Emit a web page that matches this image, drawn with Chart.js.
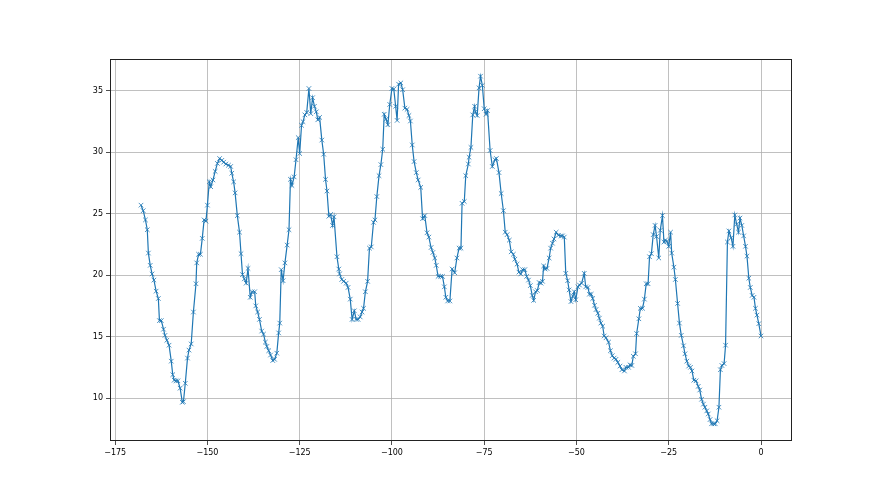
<!DOCTYPE html>
<html><head><meta charset="utf-8">
<script src="https://cdn.jsdelivr.net/npm/chart.js@4"></script>
<style>html,body{margin:0;padding:0;background:#fff}#wrap{width:880px;height:495px}</style>
</head><body><div id="wrap"><canvas id="c" width="880" height="495"></canvas></div>
<script>
const hours=[-168.0,-167.4,-166.8,-166.3,-166.0,-165.5,-165.0,-164.5,-163.9,-163.3,-163.0,-162.5,-161.9,-161.5,-161.0,-160.4,-159.8,-159.4,-159.0,-158.5,-158.0,-157.4,-156.8,-156.5,-156.0,-155.4,-155.0,-154.4,-153.8,-153.1,-152.9,-152.4,-151.9,-151.4,-150.9,-150.4,-150.0,-149.5,
-149.1,-148.5,-147.9,-147.3,-146.7,-146.1,-145.6,-145.0,-144.3,-143.7,-143.4,-142.9,-142.5,-141.9,-141.3,-140.9,-140.5,-140.0,-139.5,-139.0,-138.4,-137.9,-137.2,-136.9,-136.4,-135.9,-135.3,-134.8,-134.3,-133.9,-133.4,-132.9,-132.3,-131.8,-131.2,-130.7,-130.4,-130.0,-129.5,-129.0,-128.4,-127.9,-127.5,-127.1,-126.5,-126.0,-125.4,
-125.0,-124.5,-124.1,-123.6,-123.1,-122.5,-122.0,-121.5,-121.0,-120.5,-120.1,-119.6,-119.0,-118.5,-118.0,-117.6,-117.1,-116.6,-116.1,-115.7,-114.9,-114.4,-114.2,-113.6,-113.1,-112.4,-111.9,-111.3,-110.8,-110.2,-109.7,-109.2,-108.6,-108.1,-107.7,-107.2,-106.6,-106.1,-105.6,-105.0,-104.6,-104.1,-103.5,-103.0,-102.5,-102.1,-101.6,-101.1,-100.6,-100.0,
-99.5,-99.0,-98.6,-98.2,-97.6,-97.1,-96.5,-95.9,-95.4,-95.0,-94.5,-94.0,-93.4,-92.9,-92.2,-91.7,-91.1,-90.5,-90.0,-89.4,-88.9,-88.4,-88.0,-87.5,-86.8,-86.3,-85.8,-85.4,-84.9,-84.3,-83.7,-83.0,-82.4,-81.8,-81.3,-81.0,-80.4,-80.0,-79.3,-79.1,-78.6,-78.1,-77.6,-77.4,-76.9,-76.4,-76.0,-75.5,-75.0,
-74.5,-74.1,-73.4,-72.8,-72.1,-71.7,-71.0,-70.4,-69.8,-69.3,-68.8,-68.2,-67.7,-67.1,-66.7,-66.1,-65.6,-65.1,-64.6,-64.0,-63.5,-63.0,-62.5,-62.0,-61.6,-61.1,-60.6,-60.1,-59.6,-59.2,-58.9,-58.5,-58.0,-57.4,-57.0,-56.5,-56.1,-55.5,-54.9,-54.2,-53.8,-53.3,-52.9,-52.4,-52.0,-51.5,-51.0,-50.6,-50.2,
-49.6,-49.2,-48.6,-47.9,-47.5,-46.9,-46.5,-46.0,-45.6,-45.1,-44.7,-44.2,-43.8,-43.4,-42.9,-42.5,-42.0,-41.3,-40.8,-40.3,-39.8,-39.3,-38.8,-38.2,-37.7,-37.0,-36.6,-35.9,-35.5,-35.0,-34.6,-34.0,-33.7,-33.1,-32.7,-32.1,-31.6,-31.1,-30.6,-30.2,-29.7,-29.2,-28.7,-28.3,-27.7,-27.3,-26.7,-26.3,-25.9,-25.5,-25.0,
-24.5,-24.2,-23.6,-23.2,-22.6,-22.1,-21.6,-21.0,-20.6,-20.1,-19.6,-19.1,-18.7,-18.2,-17.6,-17.0,-16.6,-16.1,-15.6,-15.2,-14.7,-14.3,-13.8,-13.4,-12.8,-12.4,-11.9,-11.4,-11.0,-10.6,-10.0,-9.6,-9.1,-8.7,-8.1,-7.6,-7.1,-6.6,-6.1,-5.7,-5.2,-4.7,-4.2,-3.8,-3.3,-2.9,-2.4,-1.9,-1.5,-1.1,-0.6,0];
const values=[25.7,25.25,24.5,23.7,21.8,20.8,20.1,19.6,18.7,18.1,16.3,16.3,15.6,15.1,14.7,14.3,13.0,11.9,11.45,11.4,11.4,10.8,9.65,9.7,11.2,13.25,13.9,14.4,17.0,19.3,21.0,21.7,21.7,23.0,24.5,24.4,25.7,27.6,
27.2,27.75,28.45,29.1,29.5,29.35,29.2,29.05,28.95,28.85,28.3,27.6,26.7,24.85,23.5,21.75,20.05,19.7,19.35,20.55,18.2,18.65,18.65,17.5,17.0,16.4,15.45,15.2,14.55,14.2,13.85,13.5,13.05,13.15,13.65,15.3,16.1,20.45,19.55,21.0,22.45,23.7,27.8,27.3,28.0,29.4,31.2,
29.9,32.2,32.5,33.05,33.25,35.2,33.15,34.45,33.75,33.3,32.65,32.85,31.0,29.85,27.8,26.85,24.8,24.95,24.05,24.75,21.5,20.5,20.1,19.65,19.5,19.35,19.0,18.05,16.4,17.1,16.4,16.4,16.6,17.0,17.3,18.65,19.5,22.2,22.3,24.3,24.5,26.4,28.1,29.0,30.25,33.1,32.7,32.25,33.9,35.2,
35.15,33.75,32.6,35.55,35.65,35.1,33.6,33.5,33.0,32.55,30.6,29.25,28.35,27.75,27.15,24.6,24.85,23.45,23.1,22.25,21.85,21.4,20.8,19.9,19.9,19.9,19.05,18.2,17.9,17.9,20.5,20.2,21.4,22.2,22.2,25.85,26.0,28.1,29.05,29.6,30.4,33.05,33.75,33.3,33.0,35.25,36.2,35.45,33.55,
33.1,33.4,30.15,28.85,29.4,29.5,28.35,26.65,25.25,23.5,23.3,22.85,21.9,21.7,21.3,20.9,20.25,20.1,20.45,20.45,19.9,19.6,19.15,18.35,17.95,18.65,18.75,19.4,19.35,19.5,20.75,20.5,20.55,21.4,22.2,22.6,22.95,23.5,23.25,23.2,23.2,23.1,20.15,19.55,18.8,17.85,18.3,18.65,18.0,
19.05,19.2,19.35,20.15,19.05,19.0,18.45,18.45,18.1,17.55,17.2,16.9,16.5,16.1,15.85,15.05,14.9,14.55,13.85,13.45,13.25,13.15,12.9,12.6,12.3,12.2,12.5,12.5,12.7,12.65,13.4,13.6,15.25,16.45,17.3,17.3,18.05,19.3,19.3,21.5,21.75,23.3,24.05,23.15,21.4,23.65,24.85,22.7,22.85,22.75,22.35,
23.5,21.8,20.65,19.65,17.7,16.1,15.1,14.25,13.6,13.0,12.6,12.5,12.2,11.45,11.4,10.95,10.65,9.9,9.5,9.25,8.95,8.7,8.25,7.9,7.9,7.9,8.15,9.25,12.3,12.65,12.8,14.3,22.7,23.6,23.05,22.35,24.9,24.15,23.5,24.65,24.05,23.2,22.35,21.55,19.75,19.0,18.35,18.2,17.3,16.75,16.05,15.05];
const xTicks=[-175,-150,-125,-100,-75,-50,-25,0];
const yTicks=[10,15,20,25,30,35];

const fmt=v=>(v<0?'\u2212'+Math.abs(v):String(v));
const points=hours.map((h,i)=>({x:h,y:values[i]}));
const tickFont={family:'DejaVu Sans',size:8};

const boxPlugin={id:'box',afterDraw(chart){
  const a=chart.chartArea,ctx=chart.ctx;
  ctx.save();ctx.strokeStyle='#222';ctx.lineWidth=1;
  ctx.strokeRect(Math.round(a.left)+0.5,Math.round(a.top)+0.5,Math.round(a.right-a.left)-1,Math.round(a.bottom-a.top)-1);
  ctx.restore();}};

new Chart(document.getElementById('c'),{
  type:'scatter',
  data:{datasets:[{data:points,showLine:true,borderColor:'#1f77b4',borderWidth:1.2,
    pointStyle:'crossRot',pointRadius:3.2,pointBorderWidth:0.8,pointBorderColor:'#1f77b4',
    pointBackgroundColor:'rgba(0,0,0,0)',pointHoverRadius:3.2,tension:0,clip:false}]},
  options:{responsive:false,animation:false,devicePixelRatio:1,
    layout:{padding:{left:0,right:88,top:59,bottom:0}},
    plugins:{legend:{display:false},tooltip:{enabled:false}},
    scales:{
      x:{type:'linear',min:-176.4,max:8.4,
        afterBuildTicks:s=>{s.ticks=xTicks.map(v=>({value:v}));},
        afterFit:s=>{s.height=54;},
        border:{display:false},
        grid:{color:'#b0b0b0',lineWidth:0.8,tickColor:'#222',tickLength:4,drawTicks:true},
        ticks:{callback:fmt,font:tickFont,color:'#000',padding:3,maxRotation:0,autoSkip:false}},
      y:{type:'linear',min:6.5,max:37.6,
        afterBuildTicks:s=>{s.ticks=yTicks.map(v=>({value:v}));},
        afterFit:s=>{s.width=110;},
        border:{display:false},
        grid:{color:'#b0b0b0',lineWidth:0.8,tickColor:'#222',tickLength:4,drawTicks:true},
        ticks:{callback:fmt,font:tickFont,color:'#000',padding:3,autoSkip:false}}
    }},
  plugins:[boxPlugin]
});
</script></body></html>
